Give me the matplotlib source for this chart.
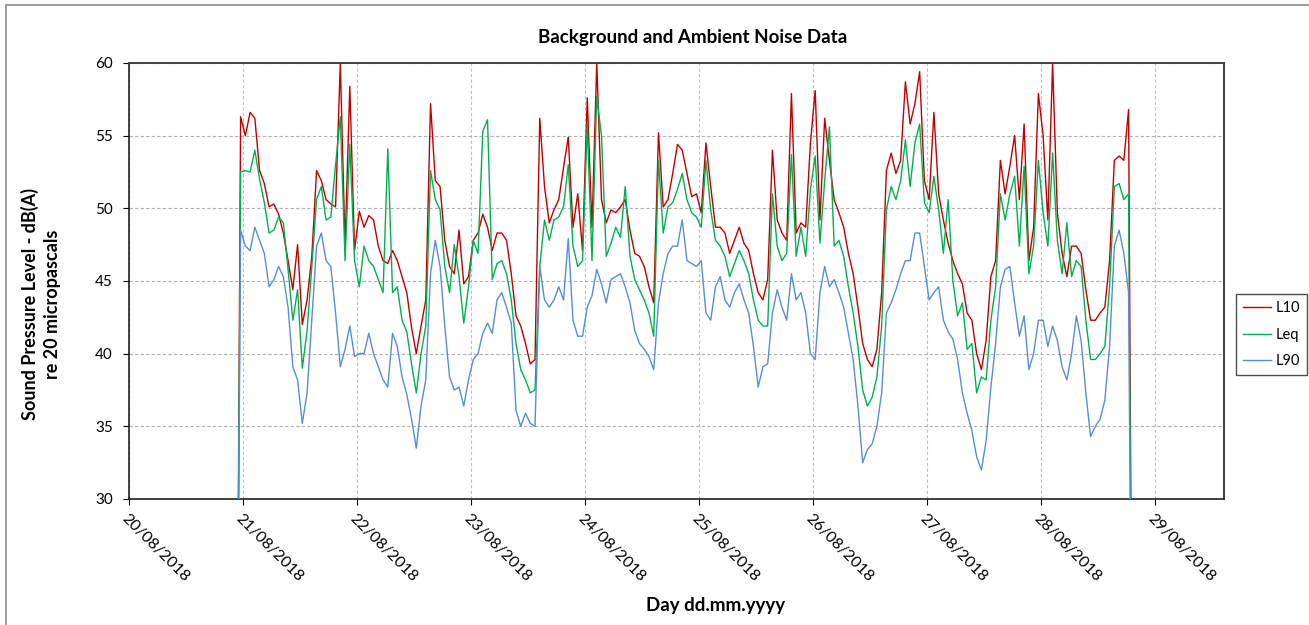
import matplotlib
matplotlib.use("Agg")
import matplotlib.pyplot as plt
import matplotlib.dates as mdates
from matplotlib.patches import Rectangle
from matplotlib.lines import Line2D
import pandas as pd

plt.rcParams["font.family"] = ["Lato", "DejaVu Sans"]

# Hourly readings from 20/08/2018 22:30 (first and last samples are logger zeros)
START = "2018-08-20 22:30"

l10 = [
    0.0, 56.3, 55.0, 56.6, 56.2, 52.6, 51.7, 50.1, 50.3, 49.6,
    48.3, 46.4, 44.4, 47.5, 42.0, 43.7, 46.7, 52.6, 51.9, 50.6,
    50.3, 50.1, 60.0, 47.4, 58.4, 47.1, 49.8, 48.7, 49.5, 49.2,
    47.4, 46.4, 46.2, 47.1, 46.4, 45.3, 44.2, 41.8, 40.0, 41.9,
    43.7, 57.2, 51.9, 51.5, 47.8, 46.0, 45.5, 48.5, 44.8, 45.3,
    47.8, 48.3, 49.6, 48.7, 47.1, 48.3, 48.3, 47.8, 45.5, 42.6,
    41.9, 40.7, 39.3, 39.6, 56.2, 51.5, 49.0, 49.9, 50.6, 52.8,
    54.9, 48.7, 51.0, 47.1, 57.6, 48.7, 60.0, 50.6, 49.0, 49.9,
    49.7, 50.1, 50.6, 48.5, 46.9, 46.7, 46.0, 44.6, 43.5, 55.2,
    50.1, 50.6, 52.4, 54.4, 54.0, 52.4, 50.8, 51.0, 49.7, 54.5,
    51.5, 48.7, 48.7, 48.3, 46.9, 47.8, 48.7, 47.6, 47.1, 45.5,
    44.2, 43.7, 45.1, 54.0, 49.2, 48.3, 47.8, 57.9, 48.3, 49.0,
    48.7, 54.5, 58.1, 49.2, 56.2, 53.3, 50.6, 49.7, 48.7, 46.9,
    45.5, 43.2, 40.7, 39.6, 39.1, 40.3, 44.2, 52.6, 53.8, 52.4,
    53.3, 58.7, 55.8, 57.2, 59.4, 51.9, 50.6, 56.6, 51.0, 49.2,
    47.6, 46.4, 45.5, 44.8, 42.8, 42.3, 40.0, 38.9, 40.9, 45.3,
    46.4, 53.3, 51.0, 52.9, 55.0, 50.6, 55.8, 46.4, 48.7, 57.9,
    55.0, 49.2, 60.0, 49.7, 46.9, 45.3, 47.4, 47.4, 46.9, 44.4,
    42.3, 42.3, 42.8, 43.2, 46.4, 53.3, 53.6, 53.3, 56.8, 0.0,
]

leq = [
    0.0, 52.5, 52.6, 52.5, 54.0, 52.0, 50.4, 48.3, 48.5, 49.4,
    49.0, 45.8, 42.3, 44.4, 39.0, 41.6, 46.0, 50.6, 51.5, 49.2,
    49.4, 53.0, 56.3, 46.4, 54.4, 46.4, 44.6, 47.4, 46.4, 46.0,
    45.1, 44.2, 54.1, 44.2, 44.6, 42.3, 41.5, 39.3, 37.3, 40.0,
    41.9, 52.6, 50.6, 49.9, 46.0, 44.2, 47.5, 45.3, 42.1, 44.6,
    47.8, 46.9, 55.3, 56.1, 45.1, 46.2, 46.4, 45.5, 43.7, 40.7,
    38.9, 38.2, 37.3, 37.5, 46.0, 49.2, 47.8, 49.2, 49.4, 50.1,
    53.0, 47.4, 46.0, 46.4, 55.8, 46.4, 57.7, 55.0, 46.7, 47.6,
    48.7, 48.0, 51.5, 46.7, 45.1, 44.4, 43.7, 42.8, 41.2, 53.3,
    48.3, 50.1, 50.4, 51.3, 52.4, 50.6, 49.7, 49.4, 48.7, 53.3,
    49.9, 47.8, 47.4, 46.7, 45.3, 46.2, 47.1, 46.4, 45.5, 43.7,
    42.3, 41.9, 41.9, 51.0, 47.4, 46.4, 46.9, 53.7, 46.7, 48.7,
    46.7, 51.3, 53.6, 47.6, 51.9, 55.6, 47.4, 47.8, 46.7, 44.6,
    42.8, 40.5, 37.5, 36.4, 37.0, 38.4, 41.9, 49.9, 51.5, 50.6,
    51.9, 54.7, 51.5, 54.5, 55.8, 50.4, 49.7, 52.2, 49.9, 46.9,
    50.6, 45.0, 42.6, 43.5, 40.3, 40.7, 37.3, 38.4, 38.2, 42.3,
    44.6, 51.0, 49.2, 51.0, 52.2, 47.4, 52.9, 45.5, 47.4, 53.3,
    49.7, 47.4, 53.8, 47.8, 45.5, 49.0, 45.3, 46.4, 46.0, 42.3,
    39.6, 39.6, 40.0, 40.5, 44.6, 51.5, 51.7, 50.6, 51.0, 0.0,
]

l90 = [
    0.0, 48.5, 47.4, 47.1, 48.7, 47.8, 46.9, 44.6, 45.1, 46.0,
    45.3, 43.2, 39.1, 38.2, 35.2, 37.3, 42.3, 47.4, 48.3, 46.4,
    46.0, 42.8, 39.1, 40.3, 41.9, 39.8, 40.0, 40.0, 41.4, 40.0,
    39.1, 38.2, 37.7, 41.4, 40.5, 38.4, 37.2, 35.5, 33.5, 36.4,
    38.2, 45.5, 47.8, 46.0, 41.9, 38.4, 37.5, 37.7, 36.4, 38.2,
    39.6, 40.0, 41.4, 42.1, 41.4, 43.7, 44.2, 43.2, 42.1, 36.1,
    35.0, 35.9, 35.2, 35.0, 46.0, 43.7, 43.2, 43.7, 44.6, 43.7,
    47.9, 42.3, 41.2, 41.2, 43.2, 44.0, 45.8, 44.8, 43.5, 45.1,
    45.3, 45.5, 44.6, 43.5, 41.6, 40.7, 40.3, 39.8, 38.9, 43.5,
    45.5, 46.9, 47.4, 47.4, 49.2, 46.4, 46.2, 46.0, 46.4, 42.8,
    42.3, 44.6, 45.3, 43.7, 43.2, 44.2, 44.8, 43.7, 42.8, 40.5,
    37.7, 39.1, 39.3, 42.8, 44.4, 43.2, 42.3, 45.5, 43.7, 44.2,
    42.8, 40.0, 39.6, 44.2, 46.0, 44.6, 45.1, 44.2, 43.2, 41.4,
    39.6, 36.4, 32.5, 33.4, 33.8, 35.0, 37.3, 42.8, 43.5, 44.4,
    45.5, 46.4, 46.4, 48.3, 48.3, 46.0, 43.7, 44.2, 44.6, 42.3,
    41.5, 41.0, 39.6, 37.3, 35.9, 34.7, 32.9, 32.0, 34.0, 37.7,
    40.7, 44.6, 45.8, 46.0, 43.5, 41.2, 42.6, 38.9, 40.0, 42.3,
    42.3, 40.5, 41.9, 40.9, 39.1, 38.2, 40.0, 42.6, 40.9, 37.3,
    34.3, 35.0, 35.5, 36.8, 40.5, 47.4, 48.5, 46.9, 44.2, 0.0,
]

times = pd.date_range(START, periods=len(l10), freq="h")

series = [("L10", l10, "#C00000"), ("Leq", leq, "#00B050"), ("L90", l90, "#558ED5")]

W, H = 1309, 625
fig = plt.figure(figsize=(W / 100, H / 100), dpi=100)
ax = fig.add_axes([129 / W, 1 - 499 / H, (1224 - 129) / W, (499 - 63) / H])

for name, vals, col in series:
    ax.plot(times, vals, color=col, lw=1.0, label=name, zorder=3)

ax.set_ylim(30, 60)
ax.set_yticks(range(30, 61, 5))
ax.set_xlim(pd.Timestamp("2018-08-20"), pd.Timestamp("2018-08-20") + pd.Timedelta(days=9.608))
ax.xaxis.set_major_locator(mdates.DayLocator())
ax.xaxis.set_major_formatter(mdates.DateFormatter("%d/%m/%Y"))

ax.yaxis.grid(True, color="#B0B0B0", linestyle=(0, (3, 2)), lw=0.8)
ax.xaxis.grid(True, color="#A9C4EB", linestyle=(0, (3, 2)), lw=0.8)
ax.set_axisbelow(True)

ax.tick_params(axis="y", direction="out", length=4.5, width=0.8, labelsize=11, pad=7)
ax.tick_params(axis="x", direction="out", length=4, width=0.8, labelsize=11.5, pad=5)
for lab in ax.get_xticklabels():
    lab.set_rotation(-45)
    lab.set_ha("left")
    lab.set_va("top")
    lab.set_rotation_mode("anchor")

for side in ["top", "right"]:
    ax.spines[side].set_color("#404040")
    ax.spines[side].set_linewidth(1.4)
for side in ["left", "bottom"]:
    ax.spines[side].set_color("#202020")
    ax.spines[side].set_linewidth(1.2)

fig.text(693 / W, 1 - 37 / H, "Background and Ambient Noise Data",
         ha="center", va="center", fontsize=13.5, fontweight="bold")
fig.text(716 / W, 1 - 606 / H, "Day dd.mm.yyyy",
         ha="center", va="center", fontsize=13.5, fontweight="bold")
fig.text(41 / W, 1 - 304 / H, "Sound Pressure Level - dB(A)\nre 20 micropascals",
         ha="center", va="center", rotation=90, fontsize=13, fontweight="bold",
         linespacing=1.4, multialignment="center")

handles = [Line2D([], [], color=c, lw=1.0) for _, _, c in series]
fig.legend(handles, [n for n, _, _ in series], loc="upper left",
           bbox_to_anchor=(1236 / W, 1 - 294 / H), borderaxespad=0,
           fontsize=10.5, frameon=True, fancybox=False, edgecolor="#202020",
           handlelength=1.9, handletextpad=0.3, labelspacing=0.85,
           borderpad=0.5)

# chart-area border (only left and top edges fall inside the picture)
fig.patches.append(Rectangle((6 / W, -0.1), 1.2, 1.1 - 5 / H, transform=fig.transFigure,
                             fill=False, edgecolor="#8C8C8C", lw=1.2))

fig.savefig("out.png", dpi=100, facecolor="white")
